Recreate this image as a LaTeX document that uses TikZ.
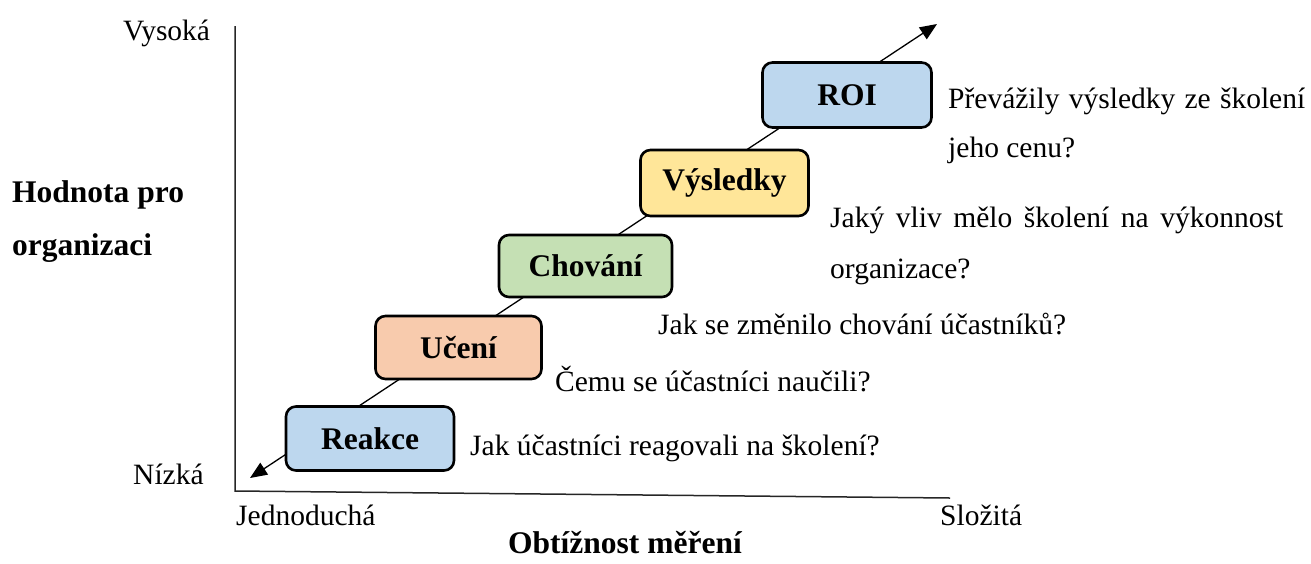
\documentclass[tikz,border=0pt]{standalone}
\usepackage{fontspec}
\setmainfont{Liberation Serif}
\usetikzlibrary{arrows.meta}
\definecolor{cblue}{HTML}{BDD7EE}
\definecolor{corange}{HTML}{F8CBAD}
\definecolor{cgreen}{HTML}{C5E0B4}
\definecolor{cyellow}{HTML}{FFE699}
\begin{document}
\begin{tikzpicture}[x=1pt,y=-1pt,
  levelbox/.style={draw=black,line width=2.6pt,rounded corners=10pt,minimum width=168pt,minimum height=64pt,inner sep=0pt,font=\fontsize{31.5}{36}\selectfont\bfseries},
  txt/.style={anchor=base west,inner sep=0pt,font=\fontsize{29.5}{34}\selectfont},
  btxt/.style={anchor=base west,inner sep=0pt,font=\fontsize{31.5}{36}\selectfont\bfseries},
  axis/.style={line width=1.5pt,draw=black!85}]
\useasboundingbox (0,0) rectangle (1311,563);
% axes
\coordinate (ytop) at (235,26);
\coordinate (origin) at (235,491);
\coordinate (xend) at (950,498);
\draw[axis] (ytop) -- (origin) -- (xend);
% diagonal arrow
\coordinate (dl) at (250,478);
\coordinate (ur) at (937,24);
\draw[line width=1.3pt,{Triangle[length=17pt,width=14pt]}-{Triangle[length=17pt,width=14pt]}] (dl) -- (ur);
% boxes
\node[levelbox,fill=cblue] (reakce) at (370,438.5) {Reakce};
\node[levelbox,fill=corange,minimum width=166pt,minimum height=63pt] (uceni) at (458.5,347.5) {Učení};
\node[levelbox,fill=cgreen,minimum width=173pt,minimum height=62pt] (chovani) at (585.5,266) {Chování};
\node[levelbox,fill=cyellow,minimum width=168pt,minimum height=66pt] (vysledky) at (724.5,183) {Výsledky};
\node[levelbox,fill=cblue,minimum width=169pt,minimum height=65pt] (roi) at (847,95) {ROI};
% texts
\node[txt] (vysoka) at (123,40) {Vysoká};
\node[txt] (nizka) at (133,484) {Nízká};
\node[btxt] (hodnota1) at (12,202) {Hodnota pro};
\node[btxt] (hodnota2) at (12,255) {organizaci};
\node[txt] (jedn) at (236,525) {Jednoduchá};
\node[txt] (slozita) at (940,525) {Složitá};
\node[btxt] (obt) at (508,553) {Obtížnost měření};
\node[txt] (q1) at (470,455) {Jak účastníci reagovali na školení?};
\node[txt] (q2) at (555,391) {Čemu se účastníci naučili?};
\node[txt] (q3) at (658,334) {Jak se změnilo chování účastníků?};
\node[txt] (q4a) at (830,227) {\makebox[453pt][s]{Jaký vliv mělo školení na výkonnost}};
\node[txt] (q4b) at (830,278) {organizace?};
\node[txt] (q5a) at (948,108) {\makebox[357pt][s]{Převážily výsledky ze školení}};
\node[txt] (q5b) at (948,157) {jeho cenu?};
\end{tikzpicture}
\end{document}
